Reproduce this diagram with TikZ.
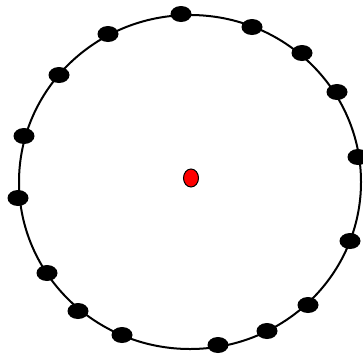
\documentclass[tikz,border=0pt]{standalone}
\usetikzlibrary{shapes.geometric}
\begin{document}
\begin{tikzpicture}[x=1pt,y=-1pt,
  dot/.style={ellipse,fill=black,inner sep=0pt,minimum width=21pt,minimum height=16pt},
  reddot/.style={ellipse,fill=red,draw=black,line width=1pt,inner sep=0pt,minimum width=15pt,minimum height=18pt}]
\useasboundingbox (0,0) rectangle (363,354);
\draw[line width=2pt] (190,182) ellipse [x radius=171, y radius=167];
\node[dot] (d1) at (181,14) {};
\node[dot] (d2) at (252,27) {};
\node[dot] (d3) at (302,53) {};
\node[dot] (d4) at (337,92) {};
\node[dot] (d5) at (358,157) {};
\node[dot] (d6) at (350,241) {};
\node[dot] (d7) at (308,305) {};
\node[dot] (d8) at (267,331) {};
\node[dot] (d9) at (218,345) {};
\node[dot] (d10) at (122,335) {};
\node[dot] (d11) at (78,311) {};
\node[dot] (d12) at (47,273) {};
\node[dot] (d13) at (18,198) {};
\node[dot] (d14) at (24,136) {};
\node[dot] (d15) at (59,75) {};
\node[dot] (d16) at (108,34) {};
\node[reddot] (c) at (191,178) {};
\end{tikzpicture}
\end{document}
